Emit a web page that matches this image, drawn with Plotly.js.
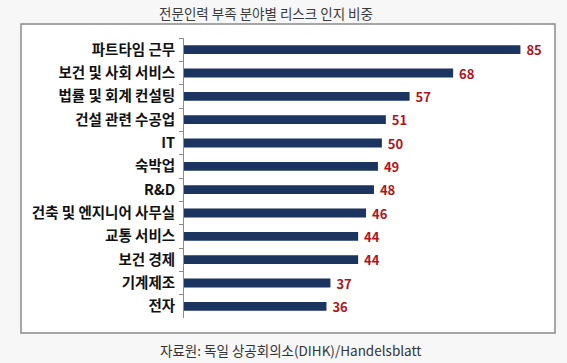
<!DOCTYPE html>
<html>
<head>
<meta charset="utf-8">
<script src="https://cdn.plot.ly/plotly-3.0.1.min.js"></script>
<style>
html,body{margin:0;padding:0;background:#f7f7f7;}
#chart{width:567px;height:363px;}
</style>
</head>
<body>
<div id="chart"></div>
<script>
const categories = ["파트타임 근무","보건 및 사회 서비스","법률 및 회계 컨설팅","건설 관련 수공업","IT","숙박업","R&D","건축 및 엔지니어 사무실","교통 서비스","보건 경제","기계제조","전자"];
const values = [85,68,57,51,50,49,48,46,44,44,37,36];
const titleText = "전문인력 부족 분야별 리스크 인지 비중";
const sourceText = "자료원: 독일 상공회의소(DIHK)/Handelsblatt";

const L = 184, R = 7, T = 38, B = 45, W = 567, H = 363;
const pw = W - L - R, ph = H - T - B;
const px = v => (v - L) / pw;
const py = v => (H - B - v) / ph;

const font = "'Noto Sans CJK KR', 'Noto Sans', sans-serif";

const trace = {
  type: "bar",
  orientation: "h",
  x: values,
  y: categories,
  marker: {color: "#1b3560"},
  text: values.map(v => " " + v),
  textposition: "outside",
  textfont: {family: font, size: 13, color: "#b0141a", weight: "bold"},
  cliponaxis: false,
  constraintext: "none",
  hoverinfo: "skip"
};

const layout = {
  width: W, height: H,
  margin: {l: L, r: R, t: T, b: B, pad: 0},
  paper_bgcolor: "#f7f7f7",
  plot_bgcolor: "rgba(0,0,0,0)",
  showlegend: false,
  bargap: 0.62,
  title: {text: titleText, font: {family: font, size: 13.5, color: "#3a3a3a"}, x: 266 / W, xanchor: "center", y: 1 - 14 / H, yanchor: "middle"},
  xaxis: {range: [0, 95], showgrid: false, zeroline: false, showticklabels: false, ticks: "", showline: false, fixedrange: true},
  yaxis: {
    type: "category",
    categoryorder: "array",
    categoryarray: categories,
    autorange: "reversed",
    showgrid: false, zeroline: false,
    showline: true, linecolor: "#8c8c8c", linewidth: 1,
    ticks: "outside", tickson: "boundaries", ticklen: 4, tickcolor: "#8c8c8c", tickwidth: 1,
    tickfont: {family: font, size: 14.5, color: "#111", weight: "bold"},
    ticklabelstandoff: 5
  },
  shapes: [{
    type: "rect", xref: "paper", yref: "paper",
    x0: px(21), x1: px(555), y0: py(333), y1: py(24),
    fillcolor: "#ffffff", line: {color: "#8a8a8a", width: 1.5}, layer: "below"
  }],
  annotations: [{
    xref: "paper", yref: "paper", x: px(290), y: py(350),
    xanchor: "center", yanchor: "middle", showarrow: false,
    text: sourceText, font: {family: font, size: 13.5, color: "#333"}
  }]
};

Plotly.newPlot("chart", [trace], layout, {displayModeBar: false, staticPlot: true});
</script>
</body>
</html>
